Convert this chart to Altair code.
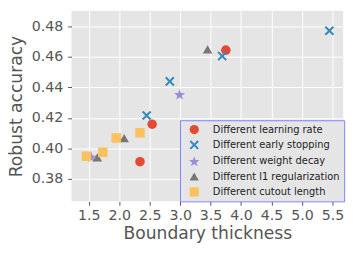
import math
import altair as alt
import pandas as pd

series = ["Different learning rate", "Different early stopping", "Different weight decay",
          "Different l1 regularization", "Different cutout length"]
colors = ["#E24A33", "#348ABD", "#988ED5", "#777777", "#FBC15E"]

lr_x = [3.75, 2.54, 2.34]
lr_y = [0.4645, 0.4159, 0.3913]
es_x = [5.45, 3.69, 2.83, 2.45]
es_y = [0.4772, 0.4606, 0.4440, 0.4216]
wd_x = [2.99, 1.54]
wd_y = [0.4355, 0.3945]
l1_x = [3.45, 2.08, 1.64]
l1_y = [0.4650, 0.4067, 0.3941]
co_x = [2.34, 1.95, 1.73, 1.46]
co_y = [0.4103, 0.4069, 0.3975, 0.3949]

x_ticks = [1.5, 2.0, 2.5, 3.0, 3.5, 4.0, 4.5, 5.0, 5.5]
y_ticks = [0.38, 0.40, 0.42, 0.44, 0.46, 0.48]

rows = []
for name, xs, ys in zip(series, [lr_x, es_x, wd_x, l1_x, co_x], [lr_y, es_y, wd_y, l1_y, co_y]):
    for a, b in zip(xs, ys):
        rows.append({"series": name, "x": a, "y": b})
df = pd.DataFrame(rows)

# X marker as filled polygon
d = 0.3
xpts = [(-1, -1 + d), (-1 + d, -1), (0, -d), (1 - d, -1), (1, -1 + d), (d, 0),
        (1, 1 - d), (1 - d, 1), (0, d), (-1 + d, 1), (-1, 1 - d), (-d, 0)]
x_path = "M" + "L".join(f"{p[0]:.3f},{p[1]:.3f}" for p in xpts) + "Z"
# star
spts = []
for i in range(10):
    r = 1.2 if i % 2 == 0 else 0.5
    ang = -math.pi / 2 + i * math.pi / 5
    spts.append((r * math.cos(ang), r * math.sin(ang) + 0.12))
star_path = "M" + "L".join(f"{p[0]:.3f},{p[1]:.3f}" for p in spts) + "Z"
shapes = ["circle", x_path, star_path, "triangle-up", "square"]

chart = alt.Chart(df).mark_point(filled=True, opacity=1, size=95, strokeWidth=0).encode(
    x=alt.X("x:Q", scale=alt.Scale(domain=[1.216, 5.677], nice=False, zero=False),
            axis=alt.Axis(values=x_ticks, format=".1f", title="Boundary thickness")),
    y=alt.Y("y:Q", scale=alt.Scale(domain=[0.3653, 0.4903], nice=False, zero=False),
            axis=alt.Axis(values=y_ticks, format=".2f", title="Robust accuracy")),
    color=alt.Color("series:N", scale=alt.Scale(domain=series, range=colors),
                    legend=alt.Legend(title=None, orient="none", legendX=111, legendY=112,
                                      strokeColor="#8080ff", fillColor="#E5E5E5",
                                      padding=4.5, rowPadding=4.7, symbolOffset=5,
                                      labelOffset=14, labelFontSize=10.1, labelFont="DejaVu Sans",
                                      labelColor="#222222", symbolSize=90, symbolStrokeWidth=0,
                                      cornerRadius=0)),
    shape=alt.Shape("series:N", scale=alt.Scale(domain=series, range=shapes), legend=None),
).properties(
    width=278, height=195,
    autosize=alt.AutoSizeParams(type="none"),
    padding={"left": 65, "top": 0, "right": 9, "bottom": 51},
).configure_view(
    fill="#E5E5E5", strokeWidth=0
).configure_axis(
    domain=False, grid=True, gridColor="white", gridWidth=1,
    tickColor="#555555", tickSize=4, tickWidth=1,
    labelFont="DejaVu Sans", labelFontSize=14.5, labelColor="#555555",
    titleFont="DejaVu Sans", titleFontSize=17.5, titleFontWeight="normal", titleColor="#555555",
).configure_axisX(labelPadding=4, titlePadding=2).configure_axisY(labelPadding=5, titlePadding=6)

chart.save("out.html", embed_options={"renderer": "svg", "actions": False})
